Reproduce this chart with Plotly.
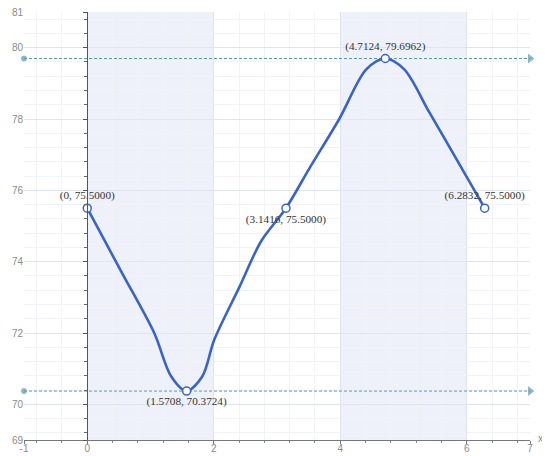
import plotly.graph_objects as go

# curve samples
curve_x = [0.0, 0.538, 1.059, 1.328, 1.5708, 1.818, 2.008, 2.403, 2.751,
           3.1416, 3.510, 3.984, 4.411, 4.7124, 5.012, 5.407, 5.771, 6.2832]
curve_y = [75.5, 73.72, 72.0, 70.78, 70.3724, 70.78, 71.81, 73.28, 74.58,
           75.5, 76.61, 78.0, 79.39, 79.6962, 79.39, 78.19, 77.08, 75.5]

key_x = [0, 1.5708, 3.1416, 4.7124, 6.2832]
key_y = [75.5, 70.3724, 75.5, 79.6962, 75.5]
key_labels = ["(0, 75.5000)", "(1.5708, 70.3724)", "(3.1416, 75.5000)",
              "(4.7124, 79.6962)", "(6.2832, 75.5000)"]
key_pos = ["top center", "bottom center", "bottom center", "top center", "top center"]

y_max_line = 79.6962
y_min_line = 70.3724
x_range = [-1, 7]
y_range = [69, 81]
x_ticks = [-1, 0, 2, 4, 6, 7]
y_ticks = [69, 70, 72, 74, 76, 78, 80, 81]
bands = [(0, 2), (4, 6)]

line_col = "#3a63c8"
dash_col = "#5b9aa8"

fig = go.Figure()

for yv in [y_max_line, y_min_line]:
    fig.add_trace(go.Scatter(
        x=[x_range[0], x_range[1]], y=[yv, yv], mode="lines+markers",
        line=dict(color=dash_col, width=1, dash="3px,2px"),
        marker=dict(symbol=["circle", "triangle-right"], size=[7, 10], color=dash_col),
        hoverinfo="skip", showlegend=False, cliponaxis=False))

fig.add_trace(go.Scatter(
    x=curve_x, y=curve_y, mode="lines",
    line=dict(color=line_col, width=2.6, shape="spline", smoothing=0.9),
    showlegend=False, hoverinfo="skip"))

fig.add_trace(go.Scatter(
    x=key_x, y=key_y, mode="markers+text", text=key_labels, textposition=key_pos,
    textfont=dict(family="Liberation Serif", size=11.2, color="#333333"),
    marker=dict(symbol="circle", size=8, color="white", line=dict(color=line_col, width=1.5)),
    showlegend=False, cliponaxis=False))

# invisible trace on the secondary (x=0) y-axis
fig.add_trace(go.Scatter(x=[0], y=[75], yaxis="y2", mode="markers",
                         marker=dict(opacity=0), showlegend=False, hoverinfo="skip"))

for a, b in bands:
    fig.add_shape(type="rect", x0=a, x1=b, y0=y_range[0], y1=y_range[1],
                  xref="x", yref="y", fillcolor="#eef1fa", line_width=0, layer="below")

fig.update_layout(
    width=542, height=448,
    margin=dict(l=16, r=20, t=4, b=16),
    paper_bgcolor="white", plot_bgcolor="white",
    font=dict(family="Liberation Sans", size=10, color="#8a8a8a"),
    xaxis=dict(range=x_range, tickvals=x_ticks, ticktext=[str(v) for v in x_ticks],
               showgrid=True, gridcolor="#dfe4ee", gridwidth=1, zeroline=False,
               showline=True, linecolor="#777777", linewidth=1, automargin=False,
               ticks="outside", ticklen=3, tickcolor="#777777",
               ticklabelstandoff=-4, ticklabeloverflow="allow",
               minor=dict(tickmode="linear", tick0=0, dtick=0.4, showgrid=True,
                          gridcolor="#f1f3f8", ticks="outside", ticklen=2, tickcolor="#888888"),
               fixedrange=True),
    yaxis=dict(range=y_range, tickvals=y_ticks, ticktext=[str(v) for v in y_ticks],
               showgrid=True, gridcolor="#dfe4ee", gridwidth=1, zeroline=False,
               showline=False, ticks="", automargin=False, ticklabeloverflow="allow",
               minor=dict(tickmode="linear", tick0=0, dtick=0.4, showgrid=True,
                          gridcolor="#f1f3f8"),
               fixedrange=True),
    yaxis2=dict(range=y_range, overlaying="y", anchor="free", position=0.125, side="left",
                showgrid=False, zeroline=False, showticklabels=False, automargin=False,
                showline=True, linecolor="#555555", linewidth=1.2,
                tickvals=y_ticks, ticks="outside", ticklen=4, tickcolor="#555555",
                minor=dict(tickmode="linear", tick0=0, dtick=0.4, ticks="outside",
                           ticklen=3, tickcolor="#666666"),
                fixedrange=True),
    annotations=[dict(text="x", x=1, y=0, xref="paper", yref="paper", xanchor="left",
                      yanchor="middle", xshift=6, yshift=2, showarrow=False,
                      font=dict(size=10, color="#8a8a8a"))],
)

fig.write_html("out.html")
